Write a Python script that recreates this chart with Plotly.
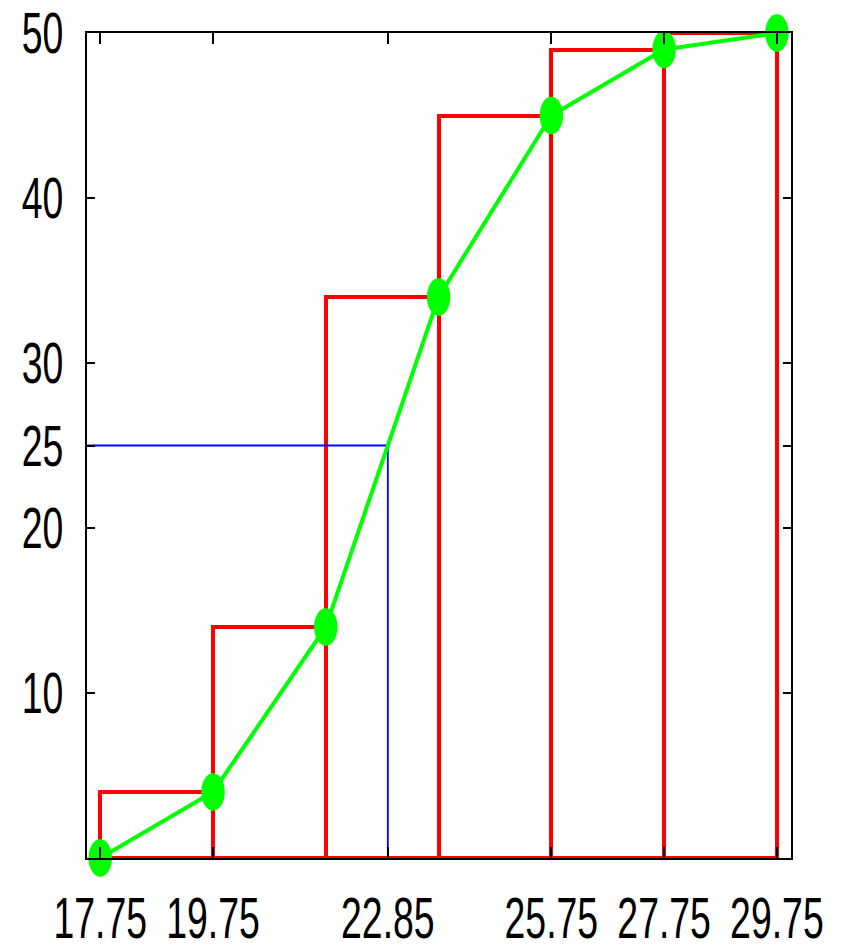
import plotly.graph_objects as go

# Class boundaries and cumulative frequencies
bin_edges = [17.75, 19.75, 21.75, 23.75, 25.75, 27.75, 29.75]
cum_freq = [4, 14, 34, 45, 49, 50]
ogive_x = [17.75, 19.75, 21.75, 23.75, 25.75, 27.75, 29.75]
ogive_y = [0, 4, 14, 34, 45, 49, 50]
median_x = 22.85
median_y = 25

x_ticks = [17.75, 19.75, 22.85, 25.75, 27.75, 29.75]
x_tick_labels = ["17.75", "19.75", "22.85", "25.75", "27.75", "29.75"]
y_ticks = [10, 20, 25, 30, 40, 50]
y_tick_labels = ["10", "20", "25", "30", "40", "50"]

x_range = [17.515, 30.0]
y_range = [0, 50]

centers = [(a + b) / 2 for a, b in zip(bin_edges[:-1], bin_edges[1:])]
widths = [b - a for a, b in zip(bin_edges[:-1], bin_edges[1:])]

fig = go.Figure()
fig.add_trace(go.Bar(
    x=centers, y=cum_freq, width=widths,
    marker=dict(color="rgba(0,0,0,0)", line=dict(color="#ff0000", width=4)),
    hoverinfo="skip",
))
fig.add_trace(go.Scatter(
    x=[x_range[0], median_x, median_x], y=[median_y, median_y, 0],
    mode="lines", line=dict(color="#0000ff", width=1.8),
))
fig.add_trace(go.Scatter(
    x=ogive_x, y=ogive_y, mode="lines+markers",
    line=dict(color="#00ff00", width=4),
    marker=dict(color="#00ff00", size=30, symbol="circle"),
    cliponaxis=False,
))

font = dict(family="Liberation Sans, Arial, sans-serif", size=58, color="black")
fig.update_layout(
    width=845, height=944,
    margin=dict(l=87, r=54, t=33, b=86),
    paper_bgcolor="white", plot_bgcolor="white",
    showlegend=False,
    font=font,
    xaxis=dict(range=x_range, tickvals=x_ticks, ticktext=x_tick_labels,
               ticks="inside", ticklen=11, tickwidth=1.5, tickcolor="black",
               showline=True, linecolor="black", linewidth=2, mirror="ticks",
               showgrid=False, zeroline=False, tickfont=font, tickangle=0,
               automargin=False, ticklabelstandoff=8, ticklabeloverflow="allow"),
    yaxis=dict(range=y_range, tickvals=y_ticks, ticktext=y_tick_labels,
               ticks="inside", ticklen=8, tickwidth=1.5, tickcolor="black",
               showline=True, linecolor="black", linewidth=2, mirror="ticks",
               showgrid=False, zeroline=False, tickfont=font,
               automargin=False, ticklabelstandoff=10, ticklabeloverflow="allow"),
    bargap=0,
)

# Remove page margin, narrow the tick-label glyphs (reference uses a condensed face)
# and make the markers elliptical like the reference.
post_js = """
(function(){
  document.body.style.margin = '0';
  document.body.style.overflow = 'hidden';
  var s = 0.645;
  function adjust(){
    document.querySelectorAll('.xtick text, .ytick text').forEach(function(t){
      if (t.getAttribute('data-sq')) return;
      var cx = parseFloat(t.getAttribute('x') || 0);
      var tr = t.getAttribute('transform') || '';
      t.setAttribute('transform', tr + ' translate(' + cx + ',0) scale(' + s + ',1) translate(' + (-cx) + ',0)');
      t.setAttribute('data-sq', '1');
    });
    document.querySelectorAll('.scatterlayer .points path.point').forEach(function(p){
      if (p.getAttribute('data-sq')) return;
      var tr = p.getAttribute('transform') || '';
      p.setAttribute('transform', tr + ' scale(0.78,1.25)');
      p.setAttribute('data-sq', '1');
    });
  }
  adjust();
  setTimeout(adjust, 50);
})();
"""
fig.write_html("out.html", post_script=post_js, config={"displayModeBar": False})
